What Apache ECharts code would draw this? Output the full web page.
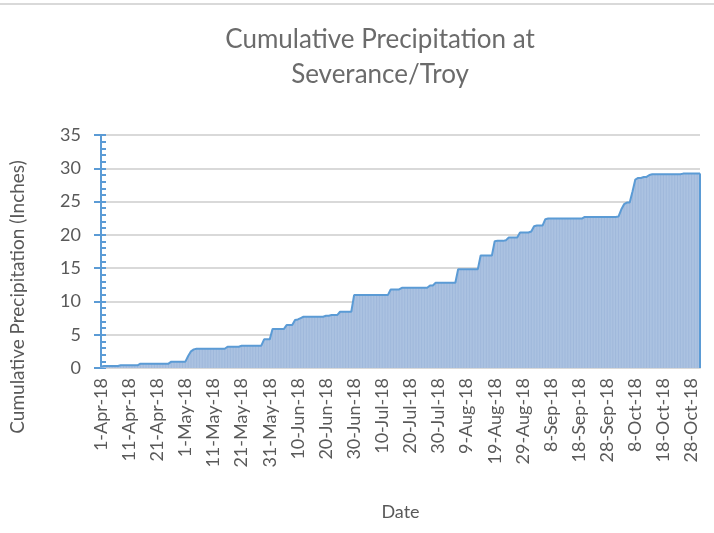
<!DOCTYPE html>
<html>
<head>
<meta charset="utf-8">
<title>Cumulative Precipitation at Severance/Troy</title>
<script src="https://cdn.jsdelivr.net/npm/echarts@6/dist/echarts.min.js"></script>
<style>
  html, body { margin: 0; padding: 0; background: #fff; }
  #chart { width: 714px; height: 533px; }
</style>
</head>
<body>
<div id="chart"></div>
<script>
// 数据：2018-04-01 起的每日累计降水（英寸）
const startDate = '2018-04-01'
const dayCount = 214
const monthNames = ['Jan', 'Feb', 'Mar', 'Apr', 'May', 'Jun', 'Jul', 'Aug', 'Sep', 'Oct', 'Nov', 'Dec']

const precip = [
  0.2, 0.3, 0.3, 0.3, 0.3, 0.3, 0.3,
  0.4, 0.4, 0.4, 0.4, 0.4, 0.4, 0.4,
  0.65, 0.65, 0.65, 0.65, 0.65, 0.65, 0.65, 0.65, 0.65, 0.65, 0.65,
  0.95, 0.95, 0.95, 0.95, 0.95, 0.95,
  1.8, 2.5, 2.8,
  2.9, 2.9, 2.9, 2.9, 2.9, 2.9, 2.9, 2.9, 2.9, 2.9, 2.9,
  3.2, 3.2, 3.2, 3.2, 3.2,
  3.35, 3.35, 3.35, 3.35, 3.35, 3.35, 3.35, 3.35,
  4.3, 4.3, 4.3,
  5.85, 5.85, 5.85, 5.85, 5.85,
  6.45, 6.45, 6.45,
  7.2, 7.3, 7.5,
  7.7, 7.7, 7.7, 7.7, 7.7, 7.7, 7.7, 7.7,
  7.85, 7.85,
  7.95, 7.95, 7.95,
  8.45, 8.45, 8.45, 8.45, 8.45,
  10.95, 10.95, 10.95, 10.95, 10.95, 10.95, 10.95, 10.95, 10.95, 10.95, 10.95, 10.95, 10.95,
  11.8, 11.8, 11.8, 11.8,
  12.05, 12.05, 12.05, 12.05, 12.05, 12.05, 12.05, 12.05, 12.05, 12.05,
  12.4, 12.4,
  12.8, 12.8, 12.8, 12.8, 12.8, 12.8, 12.8, 12.8,
  14.85, 14.85, 14.85, 14.85, 14.85, 14.85, 14.85, 14.85,
  16.9, 16.9, 16.9, 16.9, 16.9,
  19.05, 19.1, 19.1, 19.1, 19.2,
  19.6, 19.6, 19.6, 19.6,
  20.35, 20.35, 20.35, 20.35, 20.5,
  21.3, 21.4, 21.4, 21.4, 22.35,
  22.45, 22.45, 22.45, 22.45, 22.45, 22.45, 22.45, 22.45, 22.45, 22.45, 22.45, 22.45, 22.45,
  22.7, 22.7, 22.7, 22.7, 22.7, 22.7, 22.7, 22.7, 22.7, 22.7, 22.7, 22.7,
  22.75, 23.8, 24.6, 24.85, 24.85, 26.5, 28.3, 28.55, 28.55, 28.7, 28.7, 29.0,
  29.1, 29.1, 29.1, 29.1, 29.1, 29.1, 29.1, 29.1, 29.1, 29.1, 29.1,
  29.2, 29.2, 29.2, 29.2, 29.2, 29.2, 29.2
]

const yTicks = [0, 5, 10, 15, 20, 25, 30, 35]

// 日期类别：D-Mon-YY
const dates = []
const d0 = new Date(startDate + 'T00:00:00Z')
for (let i = 0; i < dayCount; i++) {
  const d = new Date(d0.getTime() + i * 86400000)
  dates.push(d.getUTCDate() + '-' + monthNames[d.getUTCMonth()] + '-' + String(d.getUTCFullYear()).slice(2))
}

const font = 'Lato, "Open Sans", sans-serif'
const textColor = '#595959'
const lineBlue = '#5b9bd5'

const chart = echarts.init(document.getElementById('chart'), null, { renderer: 'canvas' })

const lastIdx = precip.length - 1

chart.setOption({
  animation: false,
  backgroundColor: '#fff',
  textStyle: { fontFamily: font },
  title: {
    text: 'Cumulative Precipitation at\nSeverance/Troy',
    left: 375,
    top: 17,
    textAlign: 'center',
    textStyle: { fontFamily: font, fontSize: 26, fontWeight: 'normal', color: '#6b6b6b', lineHeight: 35 }
  },
  graphic: [
    // 顶部边框
    { type: 'line', shape: { x1: 0, y1: 4, x2: 714, y2: 4 }, style: { stroke: '#d9d9d9', lineWidth: 2 } },
    // 纵轴标题
    {
      type: 'text', x: 18, y: 297, rotation: Math.PI / 2,
      style: {
        text: 'Cumulative Precipitation (Inches)', fill: textColor,
        font: '19px ' + font, textAlign: 'center', textVerticalAlign: 'middle'
      }
    }
  ],
  grid: { left: 101, right: 14, top: 135, bottom: 165, outerBoundsMode: 'none' },
  xAxis: {
    type: 'category',
    data: dates,
    boundaryGap: false,
    name: 'Date',
    nameLocation: 'middle',
    nameGap: 135,
    nameTextStyle: { fontSize: 18, color: textColor, fontFamily: font },
    axisLine: { lineStyle: { color: '#d9d9d9', width: 2 } },
    axisTick: { show: false },
    axisLabel: { interval: 9, rotate: 90, fontSize: 18, color: textColor, margin: 10, fontFamily: font },
    splitLine: { show: false }
  },
  yAxis: [
    {
      type: 'value',
      min: yTicks[0],
      max: yTicks[yTicks.length - 1],
      interval: 5,
      axisLine: { show: true, lineStyle: { color: lineBlue, width: 2 } },
      axisTick: { show: true, inside: false, length: 7, lineStyle: { color: lineBlue, width: 2 } },
      axisLabel: { fontSize: 18, color: textColor, margin: 20, fontFamily: font },
      splitLine: { lineStyle: { color: '#d9d9d9', width: 2 } }
    },
    {
      // 次刻度（向内）
      type: 'value',
      position: 'left',
      min: yTicks[0],
      max: yTicks[yTicks.length - 1],
      interval: 1,
      axisLine: { show: true, lineStyle: { color: lineBlue, width: 2 } },
      axisTick: { show: true, inside: true, length: 5, lineStyle: { color: lineBlue, width: 2 } },
      axisLabel: { show: false },
      splitLine: { show: false }
    }
  ],
  series: [
    {
      name: 'area',
      type: 'line',
      data: precip,
      symbol: 'none',
      lineStyle: { width: 0 },
      areaStyle: { color: '#abc2e1', opacity: 1 },
      z: 2
    },
    {
      name: 'stripes',
      type: 'bar',
      data: precip,
      barWidth: 1,
      itemStyle: { color: '#9fb8db' },
      z: 3
    },
    {
      name: 'outline',
      type: 'line',
      data: precip,
      symbol: 'none',
      lineStyle: { color: lineBlue, width: 2 },
      z: 4,
      markLine: {
        silent: true,
        symbol: 'none',
        label: { show: false },
        lineStyle: { color: lineBlue, width: 2, type: 'solid' },
        data: [[{ coord: [dates[lastIdx], 0] }, { coord: [dates[lastIdx], precip[lastIdx]] }]]
      }
    }
  ]
})

window.addEventListener('resize', () => chart.resize())
</script>
</body>
</html>
